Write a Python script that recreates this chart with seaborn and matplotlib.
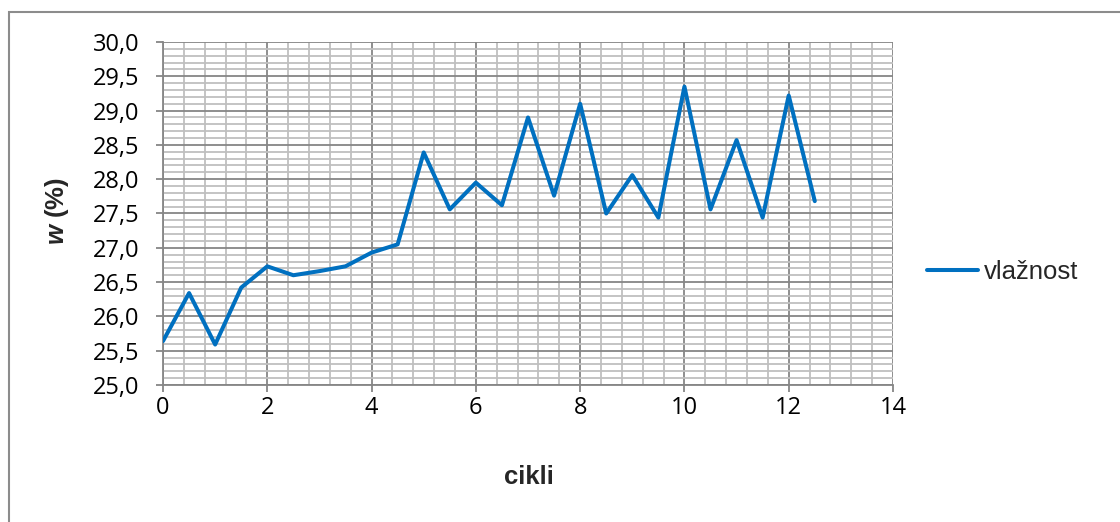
import matplotlib
matplotlib.use("Agg")
import matplotlib.pyplot as plt
from matplotlib.ticker import MultipleLocator, FuncFormatter
from matplotlib.patches import Rectangle
import seaborn as sns
import pandas as pd

# measured moisture content over wetting/drying cycles
cycles = [0, 0.5, 1, 1.5, 2, 2.5, 3, 3.5, 4, 4.5, 5, 5.5, 6, 6.5,
          7, 7.5, 8, 8.5, 9, 9.5, 10, 10.5, 11, 11.5, 12, 12.5]
moisture = [25.64, 26.34, 25.59, 26.42, 26.73, 26.60, 26.66, 26.73, 26.93, 27.05,
            28.39, 27.56, 27.95, 27.62, 28.90, 27.76, 29.10, 27.50, 28.06, 27.44,
            29.35, 27.56, 28.57, 27.44, 29.22, 27.68]
series_name = "vlažnost"
x_label = "cikli"

df = pd.DataFrame({"cikli": cycles, "w": moisture, "serija": series_name})

sns.set_style("white")
plt.rcParams["mathtext.fontset"] = "custom"
plt.rcParams["mathtext.bfit"] = "Liberation Sans:bold:italic"
plt.rcParams["mathtext.rm"] = "Liberation Sans"

fig = plt.figure(figsize=(11.2, 5.22), dpi=100)
ax = fig.add_axes([163 / 1120, 1 - 385 / 522, (893 - 163) / 1120, (385 - 42) / 522])

sns.lineplot(data=df, x="cikli", y="w", hue="serija", palette=["#0070C0"],
             linewidth=2.9, ax=ax, legend=True, zorder=5)

ax.set_xlim(0, 14)
ax.set_ylim(25.0, 30.0)
ax.xaxis.set_major_locator(MultipleLocator(2))
ax.xaxis.set_minor_locator(MultipleLocator(0.4))
ax.yaxis.set_major_locator(MultipleLocator(0.5))
ax.yaxis.set_minor_locator(MultipleLocator(0.1))
ax.yaxis.set_major_formatter(FuncFormatter(lambda v, p: f"{v:.1f}".replace(".", ",")))
ax.xaxis.set_major_formatter(FuncFormatter(lambda v, p: f"{v:.0f}"))

ax.grid(which="minor", color="#BFBFBF", linewidth=1.3)
ax.grid(which="major", color="#868686", linewidth=1.3)
ax.set_axisbelow(True)

for side in ["top", "right"]:
    ax.spines[side].set_visible(False)
for side in ["left", "bottom"]:
    ax.spines[side].set_color("#868686")
    ax.spines[side].set_linewidth(1.3)

ax.tick_params(axis="both", which="major", direction="out", length=5, width=1.3,
               color="#868686", labelsize=17, labelcolor="black", bottom=True, left=True)
ax.tick_params(axis="y", which="major", pad=12)
ax.tick_params(axis="x", which="major", pad=3)
ax.tick_params(axis="both", which="minor", length=0)
for lbl in ax.get_xticklabels() + ax.get_yticklabels():
    lbl.set_family(["Open Sans", "DejaVu Sans"])

ax.set_xlabel("")
ax.set_ylabel("")
fig.text(529 / 1120, 1 - 477 / 522, x_label, ha="center", va="center",
         fontsize=18.5, fontweight="bold", family="Liberation Sans")
fig.text(57 / 1120, 1 - 211 / 522, r"$\mathbfit{w}$ (%)", ha="center", va="center",
         rotation=90, fontsize=18.5, fontweight="bold", family="Liberation Sans")

leg = ax.legend(loc="center left", bbox_to_anchor=(927 / 1120, 1 - 272 / 522),
                bbox_transform=fig.transFigure, frameon=False, handlelength=2.0,
                handletextpad=0.2, borderaxespad=0, borderpad=0,
                prop={"family": "Liberation Sans", "size": 18.5})
for h in leg.get_lines():
    h.set_linewidth(2.9)

# chart frame
fig.patches.append(Rectangle((9 / 1120, -0.1), 1.2, (1 - 12 / 522) + 0.1,
                             transform=fig.transFigure, fill=False,
                             edgecolor="#8C8C8C", linewidth=1.5))

fig.savefig("out.png", dpi=100)
